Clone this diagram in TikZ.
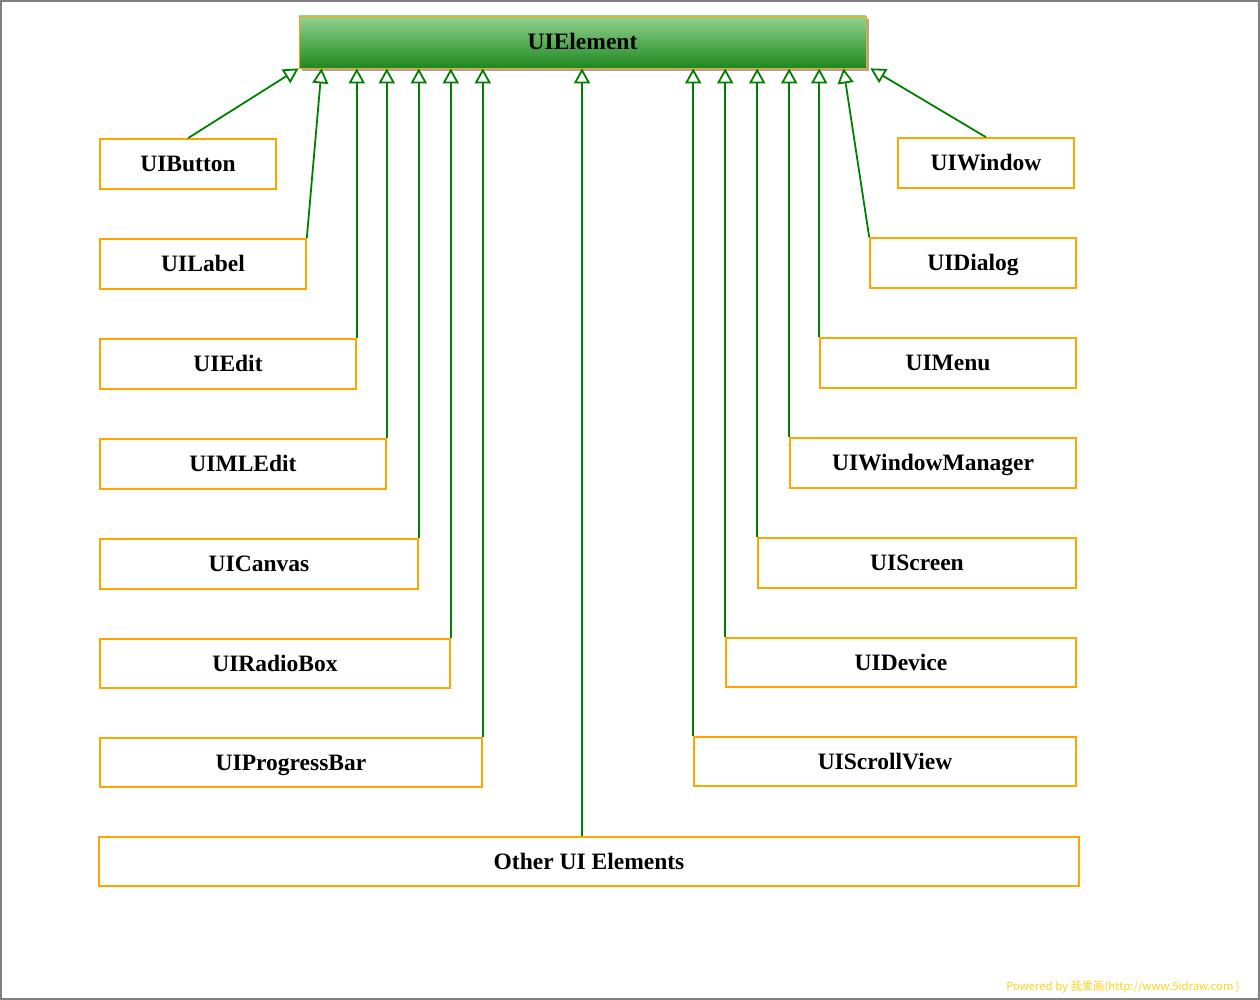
\documentclass[tikz,border=0pt]{standalone}
\usepackage{fontspec}
\setmainfont{Liberation Serif}
\newfontfamily\cjkwm{Noto Sans CJK SC}
\usetikzlibrary{arrows.meta,calc,shadows}
\definecolor{boxorange}{HTML}{FFA500}
\definecolor{linkgreen}{HTML}{008000}
\definecolor{topgreen}{HTML}{92D392}
\definecolor{botgreen}{HTML}{1E881E}
\definecolor{wmyellow}{HTML}{FFD21E}
\begin{document}
\begin{tikzpicture}[x=1pt,y=-1pt,
  cls/.style={draw=boxorange,line width=1.6pt,fill=white,inner sep=0pt,
    text height=15.6pt,text depth=0pt,
    font=\fontsize{23.5}{27}\selectfont\bfseries},
  inh/.style={draw=linkgreen,line width=1.8pt,
    -{Triangle[open,length=15pt,width=16pt,line width=1.8pt,fill=white]}},
  basebox/.style={draw=boxorange,line width=0.8pt,inner sep=0pt,
    text height=15.6pt,text depth=0pt,
    top color=topgreen,bottom color=botgreen,
    drop shadow={shadow xshift=3pt,shadow yshift=-3pt,opacity=0.35,fill=black},
    font=\fontsize{23.5}{27}\selectfont\bfseries}]
\useasboundingbox (0,0) rectangle (1260,1000);
\draw[draw=gray,line width=1.6pt] (0.8,0.8) rectangle (1259.2,999.2);

\node[basebox,minimum width=567pt,minimum height=52pt] (top) at (582.5,42) {UIElement};

% left column
\node[cls,minimum width=176pt,minimum height=50pt] (btn) at (188,164) {UIButton};
\node[cls,minimum width=206pt,minimum height=50pt] (lbl) at (203,264) {UILabel};
\node[cls,minimum width=256pt,minimum height=50pt] (edt) at (228,364) {UIEdit};
\node[cls,minimum width=286pt,minimum height=50pt] (mle) at (243,464) {UIMLEdit};
\node[cls,minimum width=318pt,minimum height=50pt] (cnv) at (259,564) {UICanvas};
\node[cls,minimum width=350pt,minimum height=49pt] (rad) at (275,663.5) {UIRadioBox};
\node[cls,minimum width=382pt,minimum height=49pt] (prg) at (291,762.5) {UIProgressBar};
\node[cls,minimum width=980pt,minimum height=49pt] (oth) at (589,861.5) {Other UI Elements};
\coordinate (othtop) at ($(oth.north)+(-7,0)$);

% right column
\node[cls,minimum width=176pt,minimum height=50pt] (win) at (986,163) {UIWindow};
\node[cls,minimum width=206pt,minimum height=50pt] (dlg) at (973,263) {UIDialog};
\node[cls,minimum width=256pt,minimum height=50pt] (mnu) at (948,363) {UIMenu};
\node[cls,minimum width=286pt,minimum height=50pt] (wmg) at (933,463) {UIWindowManager};
\node[cls,minimum width=318pt,minimum height=50pt] (scr) at (917,563) {UIScreen};
\node[cls,minimum width=350pt,minimum height=49pt] (dev) at (901,662.5) {UIDevice};
\node[cls,minimum width=382pt,minimum height=49pt] (scv) at (885,761.5) {UIScrollView};

\coordinate (lbltip) at ($(top.south west)+(23,0)$);
\coordinate (dlgtip) at ($(top.south east)+(-23,0)$);
\coordinate (wintip) at ($(top.south east)+(4,0)$);

% connectors
\draw[inh] (btn.north) -- (top.south west);
\draw[inh] (lbl.north east) -- (lbltip);
\draw[inh] (edt.north east) -- (edt.north east |- top.south);
\draw[inh] (mle.north east) -- (mle.north east |- top.south);
\draw[inh] (cnv.north east) -- (cnv.north east |- top.south);
\draw[inh] (rad.north east) -- (rad.north east |- top.south);
\draw[inh] (prg.north east) -- (prg.north east |- top.south);
\draw[inh] (othtop) -- (othtop |- top.south);
\draw[inh] (scv.north west) -- (scv.north west |- top.south);
\draw[inh] (dev.north west) -- (dev.north west |- top.south);
\draw[inh] (scr.north west) -- (scr.north west |- top.south);
\draw[inh] (wmg.north west) -- (wmg.north west |- top.south);
\draw[inh] (mnu.north west) -- (mnu.north west |- top.south);
\draw[inh] (dlg.north west) -- (dlgtip);
\draw[inh] (win.north) -- (wintip);

\node[anchor=east,text=wmyellow,inner sep=0pt,font=\cjkwm\fontsize{11.3}{13}\selectfont] (wm) at (1240,987) {Powered by 我爱画(http://www.5idraw.com )};
\end{tikzpicture}
\end{document}
